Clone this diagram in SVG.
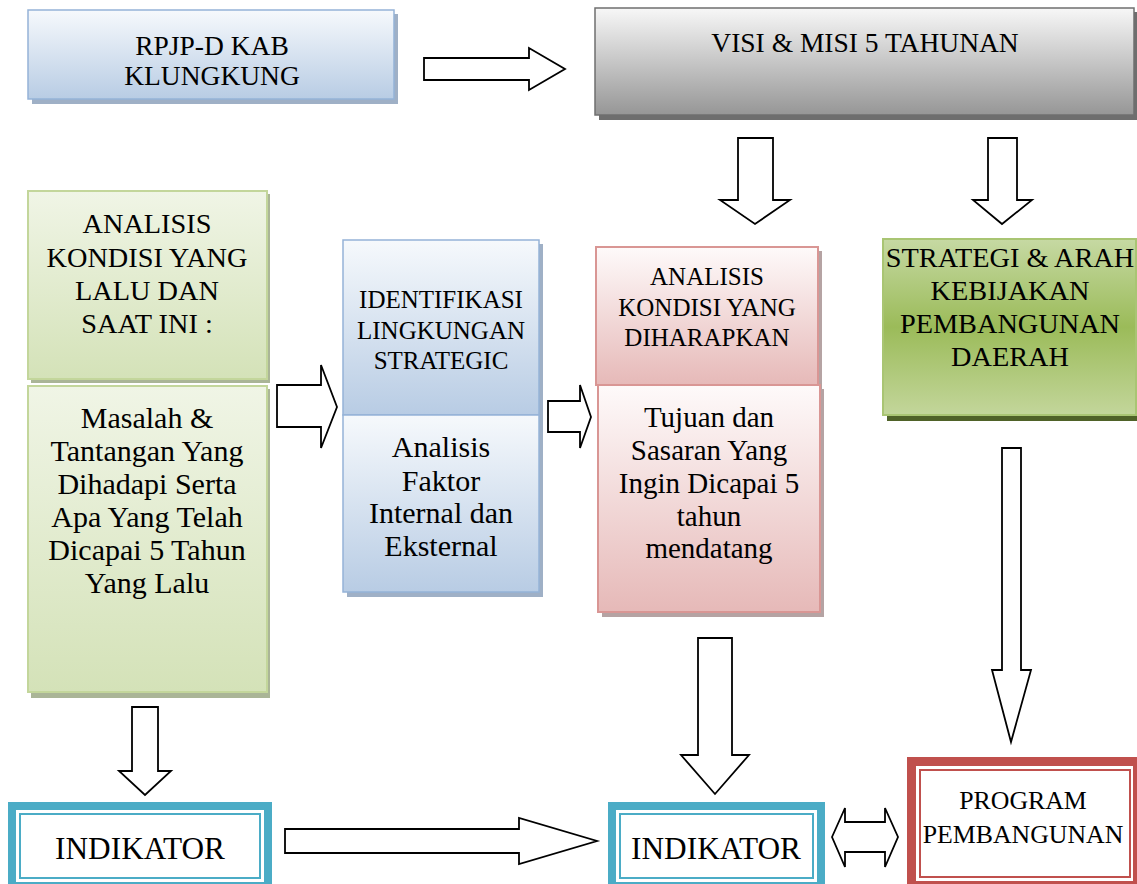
<svg xmlns="http://www.w3.org/2000/svg" width="1137" height="884" viewBox="0 0 1137 884" font-family="'Liberation Serif', 'DejaVu Serif', serif">
<defs>
<linearGradient id="gBlue" x1="0" y1="0" x2="0" y2="1"><stop offset="0" stop-color="#f6f9fc"/><stop offset="1" stop-color="#b8cce4"/></linearGradient>
<linearGradient id="gGreen" x1="0" y1="0" x2="0" y2="1"><stop offset="0" stop-color="#f0f5e6"/><stop offset="1" stop-color="#d4e2b8"/></linearGradient>
<linearGradient id="gPink" x1="0" y1="0" x2="0" y2="1"><stop offset="0" stop-color="#fefafa"/><stop offset="1" stop-color="#e6b9b8"/></linearGradient>
<linearGradient id="gGray" x1="0" y1="0" x2="0" y2="1"><stop offset="0" stop-color="#f7f7f7"/><stop offset="1" stop-color="#969696"/></linearGradient>
<linearGradient id="gStrat" x1="0" y1="0" x2="0" y2="1"><stop offset="0" stop-color="#c6d9a3"/><stop offset="0.5" stop-color="#9bbb59"/><stop offset="1" stop-color="#c3d69b"/></linearGradient>
</defs>
<style>
text{font-family:'Liberation Serif','DejaVu Serif',serif;fill:#000;text-anchor:middle}
.t28{font-size:27.5px}
.t285{font-size:28.3px}
.t29{font-size:29px}
.t30{font-size:30px}
.t25{font-size:25px}
.t26{font-size:25.8px}
.tind{font-size:31.3px}
.blue{fill:url(#gBlue);stroke:#95b3d7;stroke-width:1.5}
.green{fill:url(#gGreen);stroke:#c3d69b;stroke-width:2}
.pink{fill:url(#gPink);stroke:#d99694;stroke-width:2}
.gray{fill:url(#gGray);stroke:#6f6f6f;stroke-width:1.5}
.strat{fill:url(#gStrat);stroke:#a9c573;stroke-width:2}
.shB{fill:#9fb0c6}
.shG{fill:#aab597}
.shP{fill:#b5a3a3}
.shK{fill:#6e6e6e}
.shS{fill:#4f6228}
.arrow{fill:#fff;stroke:#000;stroke-width:1.8;stroke-linejoin:miter}
.tealO{fill:#fff;stroke:#4bacc6;stroke-width:8}
.tealI{fill:none;stroke:#4bacc6;stroke-width:2}
.redO{fill:#fff;stroke:#c0504d;stroke-width:9}
.redI{fill:none;stroke:#c0504d;stroke-width:2}
</style>
<rect width="1137" height="884" fill="#fff"/>

<g id="rpjp">
<rect class="shB" x="32" y="14" width="366" height="90"/>
<rect class="blue" x="28" y="10" width="366" height="89"/>
<text class="t28" x="212" y="55">RPJP-D KAB</text>
<text class="t28" x="212" y="85">KLUNGKUNG</text>
</g>

<g id="visi">
<rect class="shK" x="599" y="12" width="540" height="108"/>
<rect class="gray" x="595" y="8" width="539" height="107"/>
<text class="t28" x="865" y="52">VISI &amp; MISI 5 TAHUNAN</text>
</g>

<g id="analisis-lalu">
<rect class="shG" x="31" y="194" width="239" height="189"/>
<rect class="green" x="28" y="191" width="239" height="188"/>
<text class="t285" x="147" y="233">ANALISIS</text>
<text class="t285" x="147" y="267">KONDISI YANG</text>
<text class="t285" x="147" y="300">LALU DAN</text>
<text class="t285" x="147" y="333">SAAT INI :</text>
</g>

<g id="masalah">
<rect class="shG" x="31" y="389" width="239" height="309"/>
<rect class="green" x="28" y="386" width="239" height="306"/>
<text class="t30" x="147" y="428">Masalah &amp;</text>
<text class="t30" x="147" y="461">Tantangan Yang</text>
<text class="t30" x="147" y="494">Dihadapi Serta</text>
<text class="t30" x="147" y="527">Apa Yang Telah</text>
<text class="t30" x="147" y="560">Dicapai 5 Tahun</text>
<text class="t30" x="147" y="593">Yang Lalu</text>
</g>

<g id="identifikasi">
<rect class="shB" x="347" y="244" width="196" height="176"/>
<rect class="blue" x="343" y="240" width="196" height="175"/>
<text class="t25" x="441" y="308">IDENTIFIKASI</text>
<text class="t25" x="441" y="339">LINGKUNGAN</text>
<text class="t25" x="441" y="369">STRATEGIC</text>
</g>

<g id="faktor">
<rect class="shB" x="347" y="419" width="196" height="178"/>
<rect class="blue" x="343" y="415" width="196" height="177"/>
<text class="t30" x="441" y="457">Analisis</text>
<text class="t30" x="441" y="491">Faktor</text>
<text class="t30" x="441" y="523">Internal dan</text>
<text class="t30" x="441" y="556">Eksternal</text>
</g>

<g id="analisis-harapan">
<rect class="shP" x="600" y="251" width="222" height="138"/>
<rect class="pink" x="596" y="247" width="222" height="138"/>
<text class="t25" x="707" y="285">ANALISIS</text>
<text class="t25" x="707" y="316">KONDISI YANG</text>
<text class="t25" x="707" y="346">DIHARAPKAN</text>
</g>

<g id="tujuan">
<rect class="shP" x="602" y="389" width="222" height="228"/>
<rect class="pink" x="598" y="385" width="222" height="227"/>
<text class="t29" x="709" y="427">Tujuan dan</text>
<text class="t29" x="709" y="460">Sasaran Yang</text>
<text class="t29" x="709" y="493">Ingin Dicapai 5</text>
<text class="t29" x="709" y="526">tahun</text>
<text class="t29" x="709" y="558">mendatang</text>
</g>

<g id="strategi">
<rect class="shS" x="887" y="243" width="254" height="178"/>
<rect class="strat" x="883" y="239" width="253" height="176"/>
<text class="t285" x="1010" y="267">STRATEGI &amp; ARAH</text>
<text class="t285" x="1010" y="300">KEBIJAKAN</text>
<text class="t285" x="1010" y="333">PEMBANGUNAN</text>
<text class="t285" x="1010" y="366">DAERAH</text>
</g>

<g id="indikator-1">
<rect class="tealO" x="12" y="806" width="256" height="80"/>
<rect class="tealI" x="20" y="814" width="240" height="64"/>
<text class="tind" x="140" y="859">INDIKATOR</text>
</g>

<g id="indikator-2">
<rect class="tealO" x="612" y="806" width="209" height="80"/>
<rect class="tealI" x="620" y="814" width="193" height="64"/>
<text class="tind" x="716" y="859">INDIKATOR</text>
</g>

<g id="program">
<rect class="redO" x="911.5" y="761.5" width="226" height="124"/>
<rect class="redI" x="920" y="770" width="210" height="107"/>
<text class="t26" x="1023" y="809">PROGRAM</text>
<text class="t26" x="1023" y="843">PEMBANGUNAN</text>
</g>

<g id="connectors">
<path class="arrow" d="M424,58 H529 V48 L565,69 L529,90 V80 H424 Z"/>
<path class="arrow" d="M738,138 H773 V200 H790 L755,224 L720,200 H738 Z"/>
<path class="arrow" d="M988,138 H1017 V200 H1032 L1002,224 L973,200 H988 Z"/>
<path class="arrow" d="M277,385 H321 V365 L337,407 L321,448 V427 H277 Z"/>
<path class="arrow" d="M548,401 H580 V385 L591,417 L580,448 V432 H548 Z"/>
<path class="arrow" d="M1002,448 H1021 V670 H1031 L1011,742 L992,670 H1002 Z"/>
<path class="arrow" d="M132,707 H158 V771 H171 L145,795 L119,771 H132 Z"/>
<path class="arrow" d="M285,829 H519 V818 L597,841 L519,864 V853 H285 Z"/>
<path class="arrow" d="M698,638 H732 V755 H749 L715,794 L681,755 H698 Z"/>
<path class="arrow" d="M832,837 L845,808 V822 H885 V808 L898,837 L885,867 V852 H845 V867 Z"/>
</g>
</svg>
